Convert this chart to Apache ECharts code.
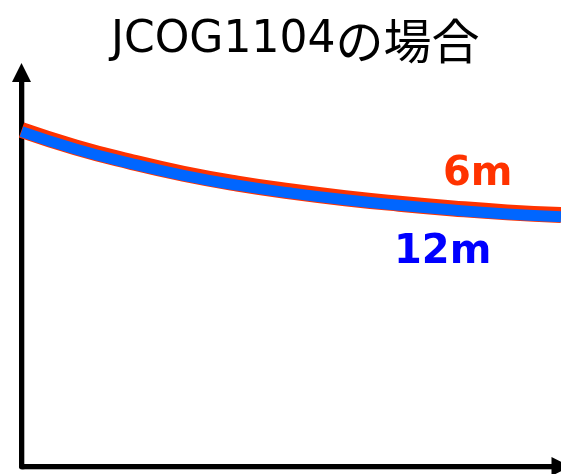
<!DOCTYPE html>
<html>
<head>
<meta charset="utf-8">
<script src="https://cdn.jsdelivr.net/npm/echarts@6/dist/echarts.min.js"></script>
<style>
  html, body { margin: 0; padding: 0; background: #fff; }
  #chart { width: 561px; height: 474px; }
</style>
</head>
<body>
<div id="chart"></div>
<script>
// Follow-up time (relative scale, 0-100) and the two curves on a 0-100 scale
const xValues = [0, 10, 20, 30, 40, 50, 60, 70, 80, 90, 100];
const curve6m = [85.4, 81.0, 77.4, 74.3, 71.8, 69.8, 68.1, 66.7, 65.5, 64.5, 63.8];
const curve12m = [85.0, 80.6, 77.0, 73.9, 71.4, 69.4, 67.7, 66.3, 65.1, 64.1, 63.4];

const titleLatin = 'JCOG1104';
const titleKana = 'の場合';
const label6m = '6m';
const label12m = '12m';

const RED = '#ff3300';
const BLUE = '#0066ff';

function pairs(xs, ys) {
  return xs.map((x, i) => [x, ys[i]]);
}

const axisLineStyle = {
  color: '#000',
  width: 5,
  shadowColor: 'rgba(0,0,0,0.3)',
  shadowOffsetX: 1,
  shadowOffsetY: 1
};

const chart = echarts.init(document.getElementById('chart'), null, { renderer: 'canvas' });
chart.setOption({
  animation: false,
  backgroundColor: '#fff',
  title: [
    {
      text: '{a|' + titleLatin + '}{b|' + titleKana + '}',
      left: 106,
      top: 12,
      textStyle: {
        fontWeight: 'normal',
        rich: {
          a: {
            fontFamily: "'DejaVu Sans', sans-serif",
            fontSize: 44,
            fontWeight: 'normal',
            color: '#000',
            lineHeight: 48
          },
          b: {
            fontFamily: "'Noto Sans CJK JP', sans-serif",
            fontSize: 48,
            fontWeight: 'normal',
            color: '#000',
            lineHeight: 48
          }
        }
      }
    },
    {
      text: label6m,
      left: 438,
      top: 150,
      textStyle: {
        fontFamily: "'DejaVu Sans', sans-serif",
        fontSize: 40,
        fontWeight: 'bold',
        color: RED
      }
    },
    {
      text: label12m,
      left: 389,
      top: 228,
      textStyle: {
        fontFamily: "'DejaVu Sans', sans-serif",
        fontSize: 40,
        fontWeight: 'bold',
        color: '#0000ff'
      }
    }
  ],
  grid: { left: 21.5, right: -3.5, top: 72.5, bottom: 7.5, containLabel: false },
  xAxis: {
    type: 'value',
    min: 0,
    max: 100,
    axisLine: { show: true, symbol: ['none', 'triangle'], symbolSize: [19, 19], lineStyle: axisLineStyle },
    axisTick: { show: false },
    axisLabel: { show: false },
    splitLine: { show: false }
  },
  yAxis: {
    type: 'value',
    min: 0,
    max: 100,
    axisLine: { show: true, symbol: ['none', 'triangle'], symbolSize: [19, 19], lineStyle: axisLineStyle },
    axisTick: { show: false },
    axisLabel: { show: false },
    splitLine: { show: false }
  },
  series: [
    {
      name: label6m,
      type: 'line',
      data: pairs(xValues, curve6m),
      smooth: 0.5,
      showSymbol: false,
      lineStyle: { color: RED, width: 16 },
      z: 3
    },
    {
      name: label12m,
      type: 'line',
      data: pairs(xValues, curve12m),
      smooth: 0.5,
      showSymbol: false,
      lineStyle: { color: BLUE, width: 11 },
      z: 4
    }
  ]
});
</script>
</body>
</html>
